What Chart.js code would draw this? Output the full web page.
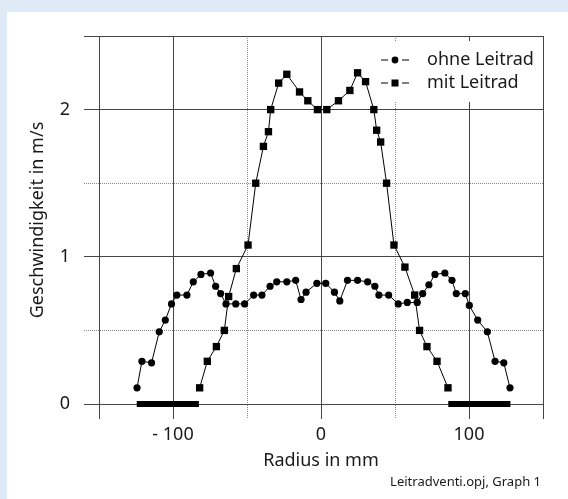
<!DOCTYPE html>
<html>
<head>
<meta charset="utf-8">
<script src="https://cdn.jsdelivr.net/npm/chart.js@4.4.1/dist/chart.umd.min.js"></script>
<style>
  html, body { margin: 0; padding: 0; }
  body { width: 568px; height: 499px; background: #deeaf6; position: relative; overflow: hidden; }
  #panel { position: absolute; left: 7px; top: 12px; right: 0; bottom: 0; background: #fff; }
  #c { position: absolute; left: 0; top: 0; }
</style>
</head>
<body>
<div id="panel"></div>
<canvas id="c" width="568" height="499"></canvas>
<script>
// Radius in mm / Geschwindigkeit in m/s
const radiusOhne = [-124.3, -121.0, -114.5, -109.3, -105.2, -101.0, -97.4, -90.6, -86.3, -81.1,
  -74.6, -71.2, -67.8, -64.2, -57.6, -51.6, -45.5, -39.9, -34.4, -29.9,
  -23.1, -17.1, -13.5, -10.1, -2.8, 3.2, 9.1, 12.7, 17.9, 24.7,
  31.5, 36.4, 39.1, 45.7, 52.2, 58.3, 65.0, 68.7, 72.9, 77.0,
  83.7, 88.5, 91.4, 97.5, 100.2, 105.9, 112.4, 117.6, 123.5, 127.7];
const speedOhne = [0.11, 0.29, 0.28, 0.49, 0.57, 0.68, 0.74, 0.74, 0.83, 0.88,
  0.89, 0.80, 0.75, 0.68, 0.68, 0.68, 0.74, 0.74, 0.80, 0.83,
  0.83, 0.84, 0.71, 0.76, 0.82, 0.82, 0.76, 0.70, 0.84, 0.84,
  0.83, 0.80, 0.74, 0.74, 0.68, 0.69, 0.69, 0.75, 0.81, 0.88,
  0.89, 0.84, 0.75, 0.75, 0.67, 0.57, 0.49, 0.29, 0.28, 0.11];

const radiusMit = [-82.0, -76.8, -70.7, -65.3, -62.4, -57.2, -49.3, -44.1, -38.9, -35.5,
  -34.0, -28.6, -23.1, -14.5, -8.9, -2.4, 3.9, 11.8, 19.5, 24.7,
  30.1, 35.7, 37.6, 40.3, 44.3, 49.3, 56.7, 63.3, 66.6, 71.6, 78.4, 85.8];
const speedMit = [0.11, 0.29, 0.39, 0.50, 0.73, 0.92, 1.08, 1.50, 1.75, 1.85,
  2.00, 2.18, 2.24, 2.12, 2.06, 2.00, 2.00, 2.06, 2.13, 2.25,
  2.19, 2.00, 1.86, 1.78, 1.50, 1.08, 0.93, 0.74, 0.50, 0.39, 0.29, 0.11];

// Leitrad-Bereich (schwarze Balken auf der Achse)
const vaneLeft = [-124.5, -82.5];
const vaneRight = [86, 128];

const seriesNames = ['ohne Leitrad', 'mit Leitrad'];
const xLabelValues = [-100, 0, 100];
const xLabelTexts = ['- 100', '0', '100'];
const yLabelValues = [0, 1, 2];
const yLabelTexts = ['0', '1', '2'];
const dottedX = [-50, 50];
const dottedY = [0.5, 1.5];

const FONT = "'Noto Sans', sans-serif";
const SOLID = '#444';
const DOT = '#8a8a8a';
const TEXT = '#1a1a1a';

const toPoints = (xs, ys) => xs.map((x, i) => ({ x: x, y: ys[i] }));

const vanePoints = [
  { x: vaneLeft[0], y: 0 }, { x: vaneLeft[1], y: 0 }, { x: null, y: null },
  { x: vaneRight[0], y: 0 }, { x: vaneRight[1], y: 0 }
];

const isDot = (list, ctx) => ctx.tick && list.includes(ctx.tick.value);

const legendPlugin = {
  id: 'innerLegend',
  afterDatasetsDraw(chart) {
    const ctx = chart.ctx;
    ctx.save();
    ctx.fillStyle = '#fff';
    ctx.fillRect(377, 41, 164, 61);
    const styles = ['circle', 'rect'];
    seriesNames.forEach((name, i) => {
      const y = 60 + i * 23;
      ctx.strokeStyle = '#000';
      ctx.lineWidth = 1;
      ctx.beginPath();
      ctx.moveTo(381, y); ctx.lineTo(388, y);
      ctx.moveTo(402, y); ctx.lineTo(409, y);
      ctx.stroke();
      ctx.fillStyle = '#000';
      if (styles[i] === 'circle') {
        ctx.beginPath();
        ctx.arc(395, y, 3.4, 0, Math.PI * 2);
        ctx.fill();
      } else {
        ctx.fillRect(391.5, y - 3.5, 7, 7);
      }
      ctx.fillStyle = TEXT;
      ctx.font = '18px ' + FONT;
      ctx.textAlign = 'left';
      ctx.textBaseline = 'middle';
      ctx.fillText(name, 427, y);
    });
    ctx.restore();
  }
};

const footPlugin = {
  id: 'foot',
  afterDraw(chart) {
    const ctx = chart.ctx;
    ctx.save();
    ctx.fillStyle = TEXT;
    ctx.font = '13px ' + FONT;
    ctx.textAlign = 'right';
    ctx.textBaseline = 'middle';
    ctx.fillText('Leitradventi.opj, Graph 1', 541, 482);
    ctx.restore();
  }
};

new Chart(document.getElementById('c'), {
  type: 'scatter',
  data: {
    datasets: [
      {
        label: seriesNames[0],
        data: toPoints(radiusOhne, speedOhne),
        showLine: true,
        borderColor: '#000',
        borderWidth: 1,
        backgroundColor: '#000',
        pointStyle: 'circle',
        pointRadius: 3.6,
        pointBorderWidth: 0,
        clip: false
      },
      {
        label: seriesNames[1],
        data: toPoints(radiusMit, speedMit),
        showLine: true,
        borderColor: '#000',
        borderWidth: 1,
        backgroundColor: '#000',
        pointStyle: 'rect',
        pointRadius: 5.2,
        pointBorderWidth: 0,
        clip: false
      },
      {
        label: 'Leitrad',
        data: vanePoints,
        showLine: true,
        spanGaps: false,
        borderColor: '#000',
        borderWidth: 6,
        borderCapStyle: 'butt',
        pointRadius: 0,
        clip: false
      }
    ]
  },
  options: {
    responsive: false,
    animation: false,
    events: [],
    layout: { padding: { top: 36, right: 25, left: 0, bottom: 0 } },
    plugins: {
      legend: { display: false },
      tooltip: { enabled: false }
    },
    scales: {
      x: {
        type: 'linear',
        min: -150,
        max: 150,
        afterFit: s => { s.height = 95; },
        ticks: {
          stepSize: 50,
          autoSkip: false,
          maxRotation: 0,
          padding: 5,
          color: TEXT,
          font: { family: FONT, size: 18 },
          callback: v => {
            const k = xLabelValues.indexOf(v);
            return k >= 0 ? xLabelTexts[k] : '';
          }
        },
        grid: {
          color: ctx => isDot(dottedX, ctx) ? DOT : SOLID,
          tickColor: ctx => isDot(dottedX, ctx) ? DOT : SOLID,
          lineWidth: 1,
          tickLength: 15,
          tickBorderDash: ctx => isDot(dottedX, ctx) ? [1, 1] : []
        },
        border: {
          color: SOLID,
          width: 1,
          dash: ctx => isDot(dottedX, ctx) ? [1, 1] : []
        },
        title: {
          display: true,
          text: 'Radius in mm',
          color: TEXT,
          font: { family: FONT, size: 18 },
          padding: { top: 0, bottom: 27 }
        }
      },
      y: {
        type: 'linear',
        min: 0,
        max: 2.5,
        afterFit: s => { s.width = 99; },
        ticks: {
          stepSize: 0.5,
          autoSkip: false,
          padding: 14,
          color: TEXT,
          font: { family: FONT, size: 18 },
          callback: v => {
            const k = yLabelValues.indexOf(v);
            return k >= 0 ? yLabelTexts[k] : '';
          }
        },
        grid: {
          color: ctx => isDot(dottedY, ctx) ? DOT : SOLID,
          tickColor: ctx => isDot(dottedY, ctx) ? DOT : SOLID,
          lineWidth: 1,
          tickLength: 15,
          tickBorderDash: ctx => isDot(dottedY, ctx) ? [1, 1] : []
        },
        border: {
          color: SOLID,
          width: 1,
          dash: ctx => isDot(dottedY, ctx) ? [1, 1] : []
        },
        title: {
          display: true,
          text: 'Geschwindigkeit in m/s',
          color: TEXT,
          font: { family: FONT, size: 18 },
          padding: { top: 27, bottom: 0 }
        }
      }
    }
  },
  plugins: [legendPlugin, footPlugin]
});
</script>
</body>
</html>
